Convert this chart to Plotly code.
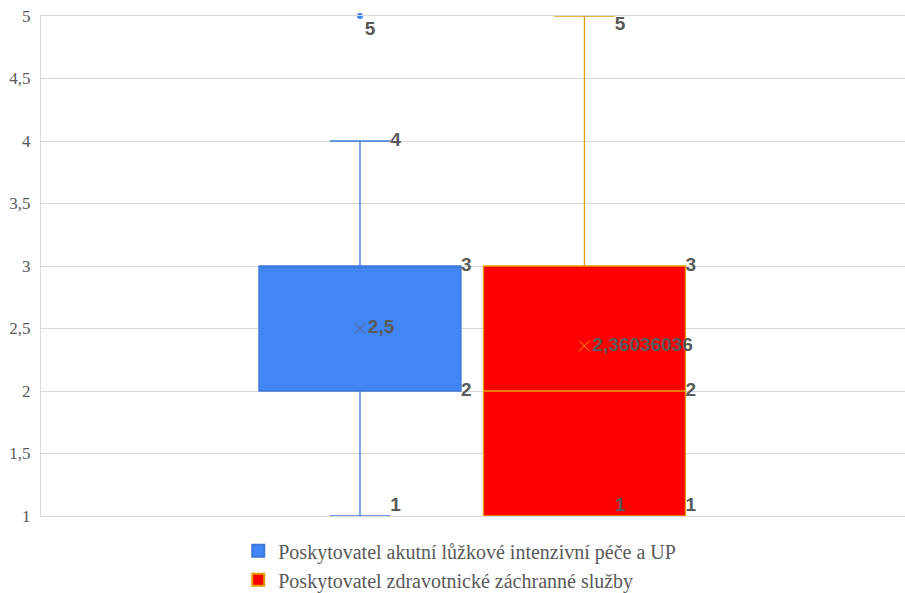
import plotly.graph_objects as go

series = ["Poskytovatel akutní lůžkové intenzivní péče a UP",
          "Poskytovatel zdravotnické záchranné služby"]
q1 = [2, 1]
median = [3, 2]
q3 = [3, 3]
lower = [1, 1]
upper = [4, 5]
means = [2.5, 2.36036036]
mean_labels = ["2,5", "2,36036036"]
outliers = [[5], []]

fills = ["#4285F4", "#FF0000"]
lines = ["#3C78D8", "#E0A000"]
mean_colors = ["#5B6F8F", "#E0A000"]
label_color = "#595959"

positions = [0, 1]
box_w = 0.9
whisk = 0.3
y_min, y_max = 1, 5

fig = go.Figure()
for i in range(2):
    fig.add_trace(go.Box(
        x=[positions[i]], q1=[q1[i]], median=[median[i]], q3=[q3[i]],
        lowerfence=[lower[i]], upperfence=[upper[i]],
        name=series[i], width=box_w, whiskerwidth=whisk,
        fillcolor=fills[i], line=dict(color=lines[i], width=1.3),
        boxpoints=False, hoverinfo="skip", showlegend=True))


def vpos(v):
    if v <= y_min:
        return "top right"
    if v >= y_max:
        return "bottom right"
    return "middle right"


label_font = dict(family="Liberation Sans, Arial", size=19, color=label_color, weight="bold")
for i in range(2):
    p = positions[i]
    bx = p + box_w / 2
    cx = p + box_w * whisk / 2
    box_vals = sorted(set([q3[i], median[i], q1[i]]), reverse=True)
    fig.add_trace(go.Scatter(x=[bx] * len(box_vals), y=box_vals, mode="text",
                             text=[str(v) for v in box_vals],
                             textposition=[vpos(v) for v in box_vals],
                             textfont=label_font, showlegend=False, hoverinfo="skip",
                             cliponaxis=False))
    fig.add_trace(go.Scatter(x=[cx, cx], y=[upper[i], lower[i]], mode="text",
                             text=[str(upper[i]), str(lower[i])],
                             textposition=[vpos(upper[i]), vpos(lower[i])],
                             textfont=label_font, showlegend=False, hoverinfo="skip",
                             cliponaxis=False))
    fig.add_trace(go.Scatter(x=[p], y=[means[i]], mode="markers+text", text=[mean_labels[i]],
                             textposition="middle right", textfont=label_font,
                             marker=dict(symbol="x-thin-open", size=11, color=mean_colors[i],
                                         line=dict(color=mean_colors[i], width=1)),
                             showlegend=False, hoverinfo="skip"))
    if outliers[i]:
        fig.add_trace(go.Scatter(x=[p] * len(outliers[i]), y=outliers[i], mode="markers+text",
                                 text=[str(v) for v in outliers[i]],
                                 textposition=[vpos(v) for v in outliers[i]],
                                 textfont=label_font,
                                 marker=dict(color=fills[i], size=6),
                                 showlegend=False, hoverinfo="skip", cliponaxis=False))

fig.update_layout(
    width=905, height=593,
    margin=dict(l=41, r=0, t=16, b=77, autoexpand=False),
    plot_bgcolor="white", paper_bgcolor="white",
    separators=", ",
    showlegend=True,
    legend=dict(orientation="v", x=0.508, xanchor="center", xref="container",
                y=0.104, yanchor="top", yref="container",
                font=dict(family="Liberation Serif, Times New Roman", size=20, color=label_color),
                itemsizing="constant", tracegroupgap=2),
    xaxis=dict(range=[-1.421, 2.428], showticklabels=False, showgrid=False,
               zeroline=False, showline=True, mirror=True, linecolor="#D9D9D9",
               fixedrange=True, automargin=False),
    yaxis=dict(range=[y_min, y_max], dtick=0.5, tick0=1, showgrid=True, gridcolor="#D9D9D9",
               zeroline=False, showline=True, linecolor="#D9D9D9", ticks="",
               automargin=False,
               tickfont=dict(family="Liberation Serif, Times New Roman", size=17, color=label_color),
               ticklabelstandoff=6),
)

fig.write_html("out.html", config={"displayModeBar": False},
               post_script="document.body.style.margin='0';document.body.style.overflow='hidden';")
